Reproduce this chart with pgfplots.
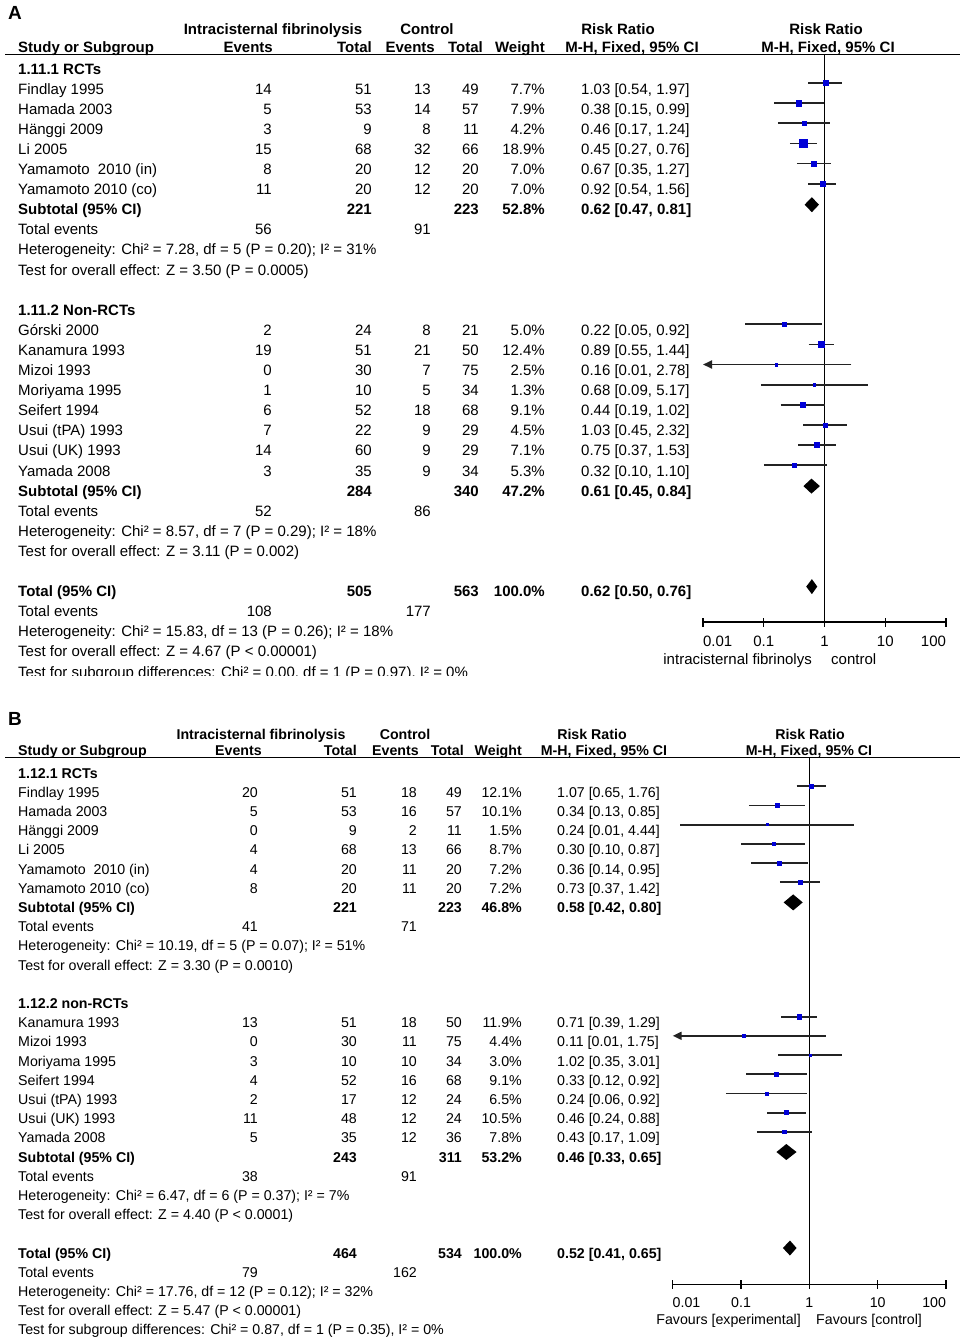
\documentclass[border=0pt]{standalone}
\usepackage{fontspec}
\setmainfont{Liberation Sans}
\usepackage{pgfplots}
\pgfplotsset{compat=1.18}
\usetikzlibrary{arrows.meta}

\definecolor{ptblue}{RGB}{0,0,215}
\definecolor{cigray}{RGB}{35,35,35}

\newcommand\fA{\fontsize{15}{18}\selectfont}
\newcommand\fB{\fontsize{14.2}{17}\selectfont}
% baselines of the table rows (picture units = reference pixels)
\newcommand\yA[1]{-74-20.1*#1}
\newcommand\yB[1]{-778-19.2*#1}

\newcommand\rowA[8]{%
  \node[anchor=base west] at (18,{\yA{#1}}) {#2};
  \node[anchor=base east] at (272,{\yA{#1}}) {#3};
  \node[anchor=base east] at (372,{\yA{#1}}) {#4};
  \node[anchor=base east] at (431,{\yA{#1}}) {#5};
  \node[anchor=base east] at (479,{\yA{#1}}) {#6};
  \node[anchor=base east] at (545,{\yA{#1}}) {#7};
  \node[anchor=base west] at (581,{\yA{#1}}) {#8};}
\newcommand\rowB[8]{%
  \node[anchor=base west] at (18,{\yB{#1}}) {#2};
  \node[anchor=base east] at (258,{\yB{#1}}) {#3};
  \node[anchor=base east] at (357,{\yB{#1}}) {#4};
  \node[anchor=base east] at (417,{\yB{#1}}) {#5};
  \node[anchor=base east] at (462,{\yB{#1}}) {#6};
  \node[anchor=base east] at (522,{\yB{#1}}) {#7};
  \node[anchor=base west] at (557,{\yB{#1}}) {#8};}
\newcommand\lineA[2]{\node[anchor=base west] at (18,{\yA{#1}}) {#2};}
\newcommand\lineB[2]{\node[anchor=base west] at (18,{\yB{#1}}) {#2};}

% forest plot pieces
\newcommand\ciline[3]{\addplot[cigray,line width=1.8pt] coordinates {(#1,#3) (#2,#3)};}
\newcommand\ciarrow[3]{\addplot[cigray,line width=1.8pt,-{Triangle[length=9pt,width=8pt]}] coordinates {(#2,#3) (#1,#3)};}
\newcommand\wsq[3]{\addplot[only marks,mark=square*,mark size=#3pt,color=ptblue] coordinates {(#1,#2)};}
\newcommand\diam[6]{\addplot[fill=black,draw=none] coordinates {(#1,#4) (#2,#5) (#3,#4) (#2,#6) (#1,#4)};}

\begin{document}
\begin{tikzpicture}[x=1pt,y=1pt]
\useasboundingbox (0,0) rectangle (965,-1339);

%%%%%%%%%%%%%%%% panel A
\begin{scope}[every node/.style={inner sep=0pt,font=\fA}]
\node[anchor=base west,font=\fontsize{19}{22}\selectfont\bfseries] at (8,-19) {A};
\begin{scope}[every node/.append style={font=\fA\bfseries}]
\node[anchor=base] at (273,-34) {Intracisternal fibrinolysis};
\node[anchor=base] at (427,-34) {Control};
\node[anchor=base] at (618,-34) {Risk Ratio};
\node[anchor=base] at (826,-34) {Risk Ratio};
\node[anchor=base west] at (18,-52.5) {Study or Subgroup};
\node[anchor=base east] at (273,-52.5) {Events};
\node[anchor=base east] at (372,-52.5) {Total};
\node[anchor=base east] at (435,-52.5) {Events};
\node[anchor=base east] at (483,-52.5) {Total};
\node[anchor=base east] at (545,-52.5) {Weight};
\node[anchor=base] at (632,-52.5) {M-H, Fixed, 95\% CI};
\node[anchor=base] at (828,-52.5) {M-H, Fixed, 95\% CI};
\end{scope}
\draw[line width=1.2pt] (5,-54.5) -- (960,-54.5);

\lineA{0}{\textbf{1.11.1 RCTs}}
\rowA{1}{Findlay 1995}{14}{51}{13}{49}{7.7\%}{1.03 [0.54, 1.97]}
\rowA{2}{Hamada 2003}{5}{53}{14}{57}{7.9\%}{0.38 [0.15, 0.99]}
\rowA{3}{Hänggi 2009}{3}{9}{8}{11}{4.2\%}{0.46 [0.17, 1.24]}
\rowA{4}{Li 2005}{15}{68}{32}{66}{18.9\%}{0.45 [0.27, 0.76]}
\rowA{5}{Yamamoto\ \ 2010 (in)}{8}{20}{12}{20}{7.0\%}{0.67 [0.35, 1.27]}
\rowA{6}{Yamamoto 2010 (co)}{11}{20}{12}{20}{7.0\%}{0.92 [0.54, 1.56]}
\rowA{7}{\textbf{Subtotal (95\% CI)}}{}{\textbf{221}}{}{\textbf{223}}{\textbf{52.8\%}}{\textbf{0.62 [0.47, 0.81]}}
\rowA{8}{Total events}{56}{}{91}{}{}{}
\lineA{9}{Heterogeneity: Chi² = 7.28, df = 5 (P = 0.20); I² = 31\%}
\lineA{10}{Test for overall effect: Z = 3.50 (P = 0.0005)}
\lineA{12}{\textbf{1.11.2 Non-RCTs}}
\rowA{13}{Górski 2000}{2}{24}{8}{21}{5.0\%}{0.22 [0.05, 0.92]}
\rowA{14}{Kanamura 1993}{19}{51}{21}{50}{12.4\%}{0.89 [0.55, 1.44]}
\rowA{15}{Mizoi 1993}{0}{30}{7}{75}{2.5\%}{0.16 [0.01, 2.78]}
\rowA{16}{Moriyama 1995}{1}{10}{5}{34}{1.3\%}{0.68 [0.09, 5.17]}
\rowA{17}{Seifert 1994}{6}{52}{18}{68}{9.1\%}{0.44 [0.19, 1.02]}
\rowA{18}{Usui (tPA) 1993}{7}{22}{9}{29}{4.5\%}{1.03 [0.45, 2.32]}
\rowA{19}{Usui (UK) 1993}{14}{60}{9}{29}{7.1\%}{0.75 [0.37, 1.53]}
\rowA{20}{Yamada 2008}{3}{35}{9}{34}{5.3\%}{0.32 [0.10, 1.10]}
\rowA{21}{\textbf{Subtotal (95\% CI)}}{}{\textbf{284}}{}{\textbf{340}}{\textbf{47.2\%}}{\textbf{0.61 [0.45, 0.84]}}
\rowA{22}{Total events}{52}{}{86}{}{}{}
\lineA{23}{Heterogeneity: Chi² = 8.57, df = 7 (P = 0.29); I² = 18\%}
\lineA{24}{Test for overall effect: Z = 3.11 (P = 0.002)}
\rowA{26}{\textbf{Total (95\% CI)}}{}{\textbf{505}}{}{\textbf{563}}{\textbf{100.0\%}}{\textbf{0.62 [0.50, 0.76]}}
\rowA{27}{Total events}{108}{}{177}{}{}{}
\lineA{28}{Heterogeneity: Chi² = 15.83, df = 13 (P = 0.26); I² = 18\%}
\lineA{29}{Test for overall effect: Z = 4.67 (P < 0.00001)}
\lineA{30}{Test for subgroup differences: Chi² = 0.00, df = 1 (P = 0.97), I² = 0\%}

\node[anchor=base east] at (812,-664) {intracisternal fibrinolys};
\node[anchor=base west] at (831,-664) {control};
\end{scope}
\fill[white] (0,-676) rectangle (965,-700);

\begin{axis}[anchor=south west, at={(703pt,-622pt)},
  scale only axis, width=243pt, height=567.5pt,
  xmode=log, xmin=0.01, xmax=100, ymin=-622, ymax=-54.5,
  axis x line=bottom, axis y line=none,
  x axis line style={-, line width=1.3pt},
  xtick={0.01,0.1,1,10,100},
  xticklabels={\makebox[0pt][l]{0.01},0.1,1,10,\makebox[0pt][r]{100}},
  xminorticks=false,
  major tick length=9pt, tick align=center,
  tick style={black, line width=1.3pt},
  xticklabel style={font=\fA, anchor=base, yshift=-20pt},
  clip=false]
\addplot[black,line width=1.3pt] coordinates {(1,-54.5) (1,-622)};
\ciline{0.54}{1.97}{-83.1}\wsq{1.03}{-83.1}{2.5}
\ciline{0.15}{0.99}{-103.2}\wsq{0.38}{-103.2}{2.55}
\ciline{0.17}{1.24}{-123.3}\wsq{0.46}{-123.3}{1.85}
\ciline{0.27}{0.76}{-143.4}\wsq{0.45}{-143.4}{3.9}
\ciline{0.35}{1.27}{-163.5}\wsq{0.67}{-163.5}{2.4}
\ciline{0.54}{1.56}{-183.6}\wsq{0.92}{-183.6}{2.4}
\diam{0.47}{0.62}{0.81}{-204.7}{-197.2}{-212.2}
\ciline{0.05}{0.92}{-324.3}\wsq{0.22}{-324.3}{2.0}
\ciline{0.55}{1.44}{-344.4}\wsq{0.89}{-344.4}{3.2}
\ciarrow{0.01}{2.78}{-364.5}\wsq{0.16}{-364.5}{1.4}
\ciline{0.09}{5.17}{-384.6}\wsq{0.68}{-384.6}{1.1}
\ciline{0.19}{1.02}{-404.7}\wsq{0.44}{-404.7}{2.7}
\ciline{0.45}{2.32}{-424.8}\wsq{1.03}{-424.8}{1.9}
\ciline{0.37}{1.53}{-444.9}\wsq{0.75}{-444.9}{2.4}
\ciline{0.10}{1.10}{-465.0}\wsq{0.32}{-465.0}{2.1}
\diam{0.45}{0.61}{0.84}{-486.1}{-478.6}{-493.6}
\diam{0.50}{0.62}{0.76}{-586.6}{-579.1}{-594.1}
\end{axis}

%%%%%%%%%%%%%%%% panel B
\begin{scope}[every node/.style={inner sep=0pt,font=\fB}]
\node[anchor=base west,font=\fontsize{19}{22}\selectfont\bfseries] at (8,-725) {B};
\begin{scope}[every node/.append style={font=\fB\bfseries}]
\node[anchor=base] at (261,-739) {Intracisternal fibrinolysis};
\node[anchor=base] at (405,-739) {Control};
\node[anchor=base] at (592,-739) {Risk Ratio};
\node[anchor=base] at (810,-739) {Risk Ratio};
\node[anchor=base west] at (18,-755.5) {Study or Subgroup};
\node[anchor=base east] at (262,-755.5) {Events};
\node[anchor=base east] at (357,-755.5) {Total};
\node[anchor=base east] at (419,-755.5) {Events};
\node[anchor=base east] at (464,-755.5) {Total};
\node[anchor=base east] at (522,-755.5) {Weight};
\node[anchor=base] at (604,-755.5) {M-H, Fixed, 95\% CI};
\node[anchor=base] at (809,-755.5) {M-H, Fixed, 95\% CI};
\end{scope}
\draw[line width=1.2pt] (5,-757.5) -- (960,-757.5);

\lineB{0}{\textbf{1.12.1 RCTs}}
\rowB{1}{Findlay 1995}{20}{51}{18}{49}{12.1\%}{1.07 [0.65, 1.76]}
\rowB{2}{Hamada 2003}{5}{53}{16}{57}{10.1\%}{0.34 [0.13, 0.85]}
\rowB{3}{Hänggi 2009}{0}{9}{2}{11}{1.5\%}{0.24 [0.01, 4.44]}
\rowB{4}{Li 2005}{4}{68}{13}{66}{8.7\%}{0.30 [0.10, 0.87]}
\rowB{5}{Yamamoto\ \ 2010 (in)}{4}{20}{11}{20}{7.2\%}{0.36 [0.14, 0.95]}
\rowB{6}{Yamamoto 2010 (co)}{8}{20}{11}{20}{7.2\%}{0.73 [0.37, 1.42]}
\rowB{7}{\textbf{Subtotal (95\% CI)}}{}{\textbf{221}}{}{\textbf{223}}{\textbf{46.8\%}}{\textbf{0.58 [0.42, 0.80]}}
\rowB{8}{Total events}{41}{}{71}{}{}{}
\lineB{9}{Heterogeneity: Chi² = 10.19, df = 5 (P = 0.07); I² = 51\%}
\lineB{10}{Test for overall effect: Z = 3.30 (P = 0.0010)}
\lineB{12}{\textbf{1.12.2 non-RCTs}}
\rowB{13}{Kanamura 1993}{13}{51}{18}{50}{11.9\%}{0.71 [0.39, 1.29]}
\rowB{14}{Mizoi 1993}{0}{30}{11}{75}{4.4\%}{0.11 [0.01, 1.75]}
\rowB{15}{Moriyama 1995}{3}{10}{10}{34}{3.0\%}{1.02 [0.35, 3.01]}
\rowB{16}{Seifert 1994}{4}{52}{16}{68}{9.1\%}{0.33 [0.12, 0.92]}
\rowB{17}{Usui (tPA) 1993}{2}{17}{12}{24}{6.5\%}{0.24 [0.06, 0.92]}
\rowB{18}{Usui (UK) 1993}{11}{48}{12}{24}{10.5\%}{0.46 [0.24, 0.88]}
\rowB{19}{Yamada 2008}{5}{35}{12}{36}{7.8\%}{0.43 [0.17, 1.09]}
\rowB{20}{\textbf{Subtotal (95\% CI)}}{}{\textbf{243}}{}{\textbf{311}}{\textbf{53.2\%}}{\textbf{0.46 [0.33, 0.65]}}
\rowB{21}{Total events}{38}{}{91}{}{}{}
\lineB{22}{Heterogeneity: Chi² = 6.47, df = 6 (P = 0.37); I² = 7\%}
\lineB{23}{Test for overall effect: Z = 4.40 (P < 0.0001)}
\rowB{25}{\textbf{Total (95\% CI)}}{}{\textbf{464}}{}{\textbf{534}}{\textbf{100.0\%}}{\textbf{0.52 [0.41, 0.65]}}
\rowB{26}{Total events}{79}{}{162}{}{}{}
\lineB{27}{Heterogeneity: Chi² = 17.76, df = 12 (P = 0.12); I² = 32\%}
\lineB{28}{Test for overall effect: Z = 5.47 (P < 0.00001)}
\lineB{29}{Test for subgroup differences: Chi² = 0.87, df = 1 (P = 0.35), I² = 0\%}

\node[anchor=base east] at (801,-1324) {Favours [experimental]};
\node[anchor=base west] at (816,-1324) {Favours [control]};
\end{scope}

\begin{axis}[anchor=south west, at={(672.7pt,-1284.3pt)},
  scale only axis, width=273.3pt, height=526.8pt,
  xmode=log, xmin=0.01, xmax=100, ymin=-1284.3, ymax=-757.5,
  axis x line=bottom, axis y line=none,
  x axis line style={-, line width=1.3pt},
  xtick={0.01,0.1,1,10,100},
  xticklabels={\makebox[0pt][l]{0.01},0.1,1,10,\makebox[0pt][r]{100}},
  xminorticks=false,
  major tick length=9pt, tick align=center,
  tick style={black, line width=1.3pt},
  xticklabel style={font=\fB, anchor=base, yshift=-19pt},
  clip=false]
\addplot[black,line width=1.3pt] coordinates {(1,-757.5) (1,-1284.3)};
\ciline{0.65}{1.76}{-786.2}\wsq{1.07}{-786.2}{2.2}
\ciline{0.13}{0.85}{-805.4}\wsq{0.34}{-805.4}{2.0}
\ciline{0.013}{4.44}{-824.6}\wsq{0.24}{-824.6}{1.0}
\ciline{0.10}{0.87}{-843.8}\wsq{0.30}{-843.8}{1.85}
\ciline{0.14}{0.95}{-863.0}\wsq{0.36}{-863.0}{1.7}
\ciline{0.37}{1.42}{-882.2}\wsq{0.73}{-882.2}{1.7}
\diam{0.42}{0.58}{0.80}{-902.4}{-894.4}{-910.4}
\ciline{0.39}{1.29}{-1016.6}\wsq{0.71}{-1016.6}{2.15}
\ciarrow{0.01}{1.75}{-1035.8}\wsq{0.11}{-1035.8}{1.3}
\ciline{0.35}{3.01}{-1055.0}\wsq{1.02}{-1055.0}{1.1}
\ciline{0.12}{0.92}{-1074.2}\wsq{0.33}{-1074.2}{1.9}
\ciline{0.06}{0.92}{-1093.4}\wsq{0.24}{-1093.4}{1.6}
\ciline{0.24}{0.88}{-1112.6}\wsq{0.46}{-1112.6}{2.0}
\ciline{0.17}{1.09}{-1131.8}\wsq{0.43}{-1131.8}{1.75}
\diam{0.33}{0.46}{0.65}{-1152.0}{-1144.0}{-1160.0}
\diam{0.41}{0.52}{0.65}{-1248.0}{-1240.5}{-1255.5}
\end{axis}
\end{tikzpicture}
\end{document}
